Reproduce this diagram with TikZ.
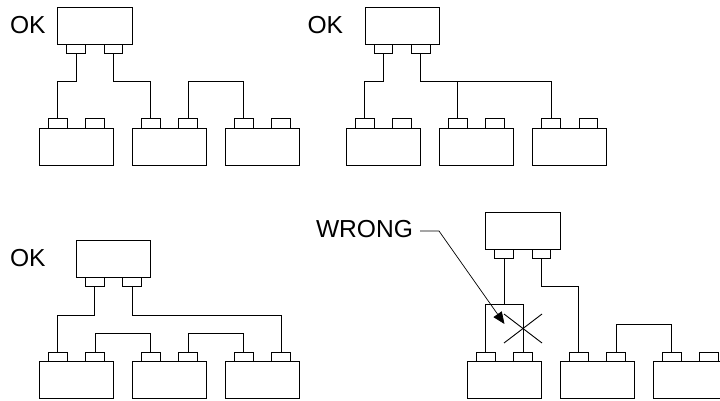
\documentclass[tikz,border=0pt]{standalone}
\usepackage{fontspec}
\setmainfont{Liberation Sans}
\usetikzlibrary{arrows.meta}
\tikzset{
  boxb/.style={draw=black,line width=0.9pt,inner sep=0,outer sep=0,minimum width=74.5pt,minimum height=37pt,anchor=north west},
  tabb/.style={draw=black,line width=0.9pt,inner sep=0,outer sep=0,minimum width=18.5pt,minimum height=9.2pt,anchor=north west},
  wire/.style={draw=black,line width=0.9pt,line join=miter},
  lbl/.style={font=\fontsize{24.6}{24.6}\selectfont,inner sep=0,outer sep=0,anchor=base west,text=black}
}
% top unit: name, x, y (tabs below)
\newcommand{\topunit}[3]{%
  \node[boxb] (#1) at (#2,#3) {};
  \node[tabb] (#1a) at (#2+9.2,#3+37) {};
  \node[tabb] (#1b) at (#2+46.5,#3+37) {};
}
% bottom unit: name, x, y (tabs above; y is box top)
\newcommand{\botunit}[3]{%
  \node[boxb] (#1) at (#2,#3) {};
  \node[tabb] (#1a) at (#2+9.5,#3-9.2) {};
  \node[tabb] (#1b) at (#2+46.7,#3-9.2) {};
}
\begin{document}
\begin{tikzpicture}[x=1pt,y=-1pt]
\useasboundingbox (0,0) rectangle (720,400);
\clip (0,0) rectangle (720,400);
% Panel 1
\node[lbl] (ok1) at (10,33) {OK};
\topunit{A}{57.7}{7}
\botunit{Ap}{39}{128}
\botunit{Aq}{132}{128}
\botunit{Ar}{225}{128}
\draw[wire] (Aa.south) -- (Aa.south |- 0,81) -| (Apa.north);
\draw[wire] (Ab.south) -- (Ab.south |- 0,81) -| (Aqa.north);
\draw[wire] (Aqb.north) -- (Aqb.north |- 0,81) -| (Ara.north);
% Panel 2
\node[lbl] (ok2) at (307.5,33) {OK};
\topunit{B}{365}{7}
\botunit{Bp}{346}{128}
\botunit{Bq}{439}{128}
\botunit{Br}{532.3}{128}
\draw[wire] (Ba.south) -- (Ba.south |- 0,81) -| (Bpa.north);
\draw[wire] (Bb.south) -- (Bb.south |- 0,81) -| (Bra.north);
\draw[wire] (Bqa.north) -- (Bqa.north |- 0,81);
% Panel 3
\node[lbl] (ok3) at (10,266.5) {OK};
\topunit{C}{76.3}{240.3}
\botunit{Cp}{39}{361.3}
\botunit{Cq}{132}{361.3}
\botunit{Cr}{225}{361.3}
\draw[wire] (Ca.south) -- (Ca.south |- 0,315) -| (Cpa.north);
\draw[wire] (Cb.south) -- (Cb.south |- 0,315) -| (Crb.north);
\draw[wire] (Cpb.north) -- (Cpb.north |- 0,333.7) -| (Cqa.north);
\draw[wire] (Cqb.north) -- (Cqb.north |- 0,333.7) -| (Cra.north);
% Panel 4
\node[lbl] (wrong) at (316,237.5) {WRONG};
\topunit{D}{485.7}{212.3}
\botunit{Dp}{467}{361.3}
\botunit{Dq}{560}{361.3}
\botunit{Dr}{653}{361.3}
\draw[wire,line width=1.2pt] (Da.south) -- (Da.south |- 0,304.7) -| (Dpa.north);
\draw[wire] (Dpb.north) -- (Dpb.north |- 0,304.7) -- (Da.south |- 0,304.7);
\draw[wire] (Db.south) -- (Db.south |- 0,286.7) -| (Dqa.north);
\draw[wire] (Dqb.north) -- (Dqb.north |- 0,324) -| (Dra.north);
\coordinate (xa) at (504,314);
\coordinate (xb) at (542,343);
\coordinate (xc) at (504,343);
\coordinate (xd) at (542,314);
\draw[wire] (xa) -- (xb);
\draw[wire] (xc) -- (xd);
\coordinate (wstart) at (420,231);
\coordinate (wbend) at (439,231);
\coordinate (wtip) at (504.5,324);
\draw[black,line width=0.7pt,-{Triangle[length=12pt,width=10pt]}] (wstart) -- (wbend) -- (wtip);
\end{tikzpicture}
\end{document}
